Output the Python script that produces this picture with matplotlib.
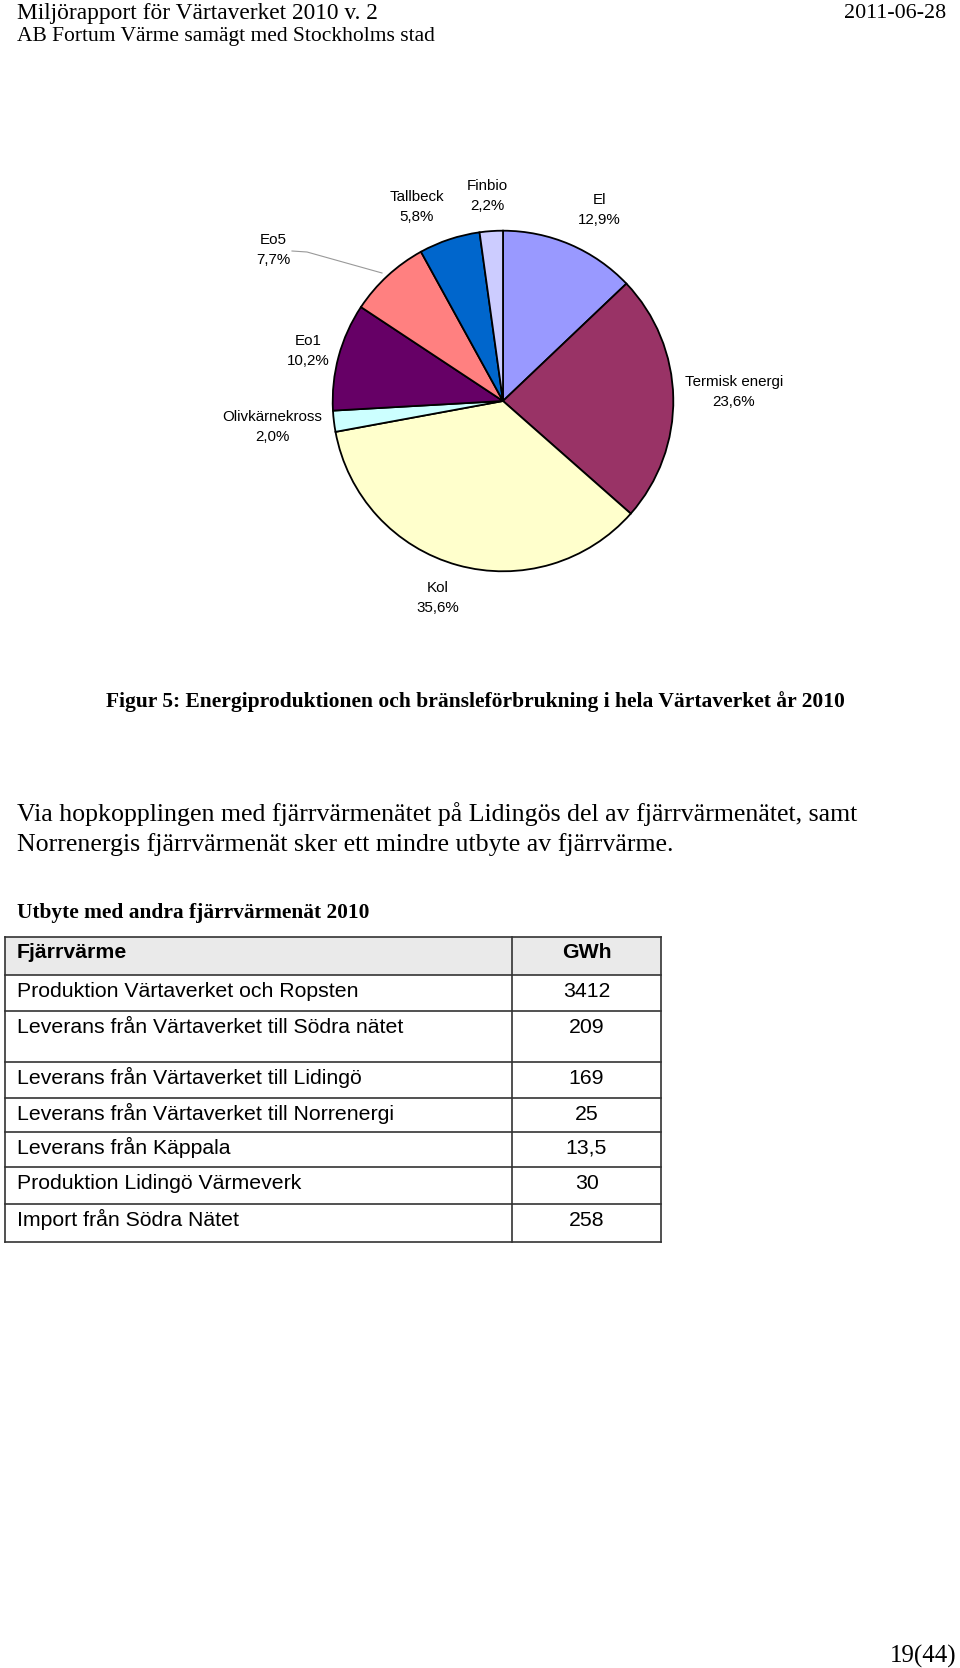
import matplotlib
matplotlib.use("Agg")
import matplotlib.pyplot as plt
from matplotlib.patches import Rectangle

# pie data
fuels = ["El", "Termisk energi", "Kol", "Olivkärnekross", "Eo1", "Eo5", "Tallbeck", "Finbio"]
shares = [12.9, 23.6, 35.6, 2.0, 10.2, 7.7, 5.8, 2.2]
fuel_colors = ["#9999FF", "#993366", "#FFFFCC", "#CCFFFF", "#660066", "#FF8080", "#0066CC", "#CCCCFF"]

# table data
table_head = ["Fjärrvärme", "GWh"]
table_rows = ["Produktion Värtaverket och Ropsten",
              "Leverans från Värtaverket till Södra nätet",
              "Leverans från Värtaverket till Lidingö",
              "Leverans från Värtaverket till Norrenergi",
              "Leverans från Käppala",
              "Produktion Lidingö Värmeverk",
              "Import från Södra Nätet"]
table_vals = ["3412", "209", "169", "25", "13,5", "30", "258"]

SERIF = "Liberation Serif"
SANS = "Liberation Sans"

W, H = 960, 1668
fig = plt.figure(figsize=(W / 100, H / 100), dpi=100)
page = fig.add_axes([0, 0, 1, 1])
page.set_xlim(0, W)
page.set_ylim(H, 0)
page.axis("off")

# header
page.text(17, 13, "Miljörapport för Värtaverket 2010 v. 2", family=SERIF, fontsize=16.8, va="center")
page.text(17, 36, "AB Fortum Värme samägt med Stockholms stad", family=SERIF, fontsize=15.5, va="center")
page.text(946, 13, "2011-06-28", family=SERIF, fontsize=15.8, va="center", ha="right")

# pie
cx, cy, r = 503, 401, 172
pax = fig.add_axes([(cx - r) / W, 1 - (cy + r) / H, 2 * r / W, 2 * r / H])
pax.pie(shares, colors=fuel_colors, startangle=90, counterclock=False,
        wedgeprops=dict(edgecolor="black", linewidth=1.3))
pax.set_xlim(-1.01, 1.01)
pax.set_ylim(-1.01, 1.01)
pax.set_aspect("equal")
pax.axis("off")

label_pos = {"El": (599, 210), "Termisk energi": (734, 392), "Kol": (438, 598),
             "Olivkärnekross": (272, 427), "Eo1": (308, 351), "Eo5": (273, 250),
             "Tallbeck": (417, 207), "Finbio": (487, 196)}
for name, val in zip(fuels, shares):
    x, y = label_pos[name]
    page.text(x, y, name + "\n" + f"{val:.1f}".replace(".", ",") + "%", family=SANS,
              fontsize=10.9, ha="center", va="center", linespacing=1.5)
page.plot([292, 307, 382], [251, 252, 273], color="#999999", lw=0.8)

# caption
page.text(475, 702, "Figur 5: Energiproduktionen och bränsleförbrukning i hela Värtaverket år 2010",
          family=SERIF, fontsize=15.5, weight="bold", ha="center", va="center")

# paragraph
page.text(17, 814, "Via hopkopplingen med fjärrvärmenätet på Lidingös del av fjärrvärmenätet, samt",
          family=SERIF, fontsize=18.6, va="center")
page.text(17, 845, "Norrenergis fjärrvärmenät sker ett mindre utbyte av fjärrvärme.",
          family=SERIF, fontsize=18.6, va="center")

# table
page.text(17, 913, "Utbyte med andra fjärrvärmenät 2010", family=SERIF, fontsize=15.4,
          weight="bold", va="center")

x0, xdiv, x1 = 5, 512, 661
row_h = [38, 36, 51, 36, 34, 35, 37, 38]
y = 937
edges = [y]
for h in row_h:
    y += h
    edges.append(y)

page.add_patch(Rectangle((x0, edges[0]), x1 - x0, edges[1] - edges[0], facecolor="#EAEAEA",
                         edgecolor="none"))
for e in edges:
    page.plot([x0, x1], [e, e], color="#333333", lw=1.2)
for xv in (x0, xdiv, x1):
    page.plot([xv, xv], [edges[0], edges[-1]], color="#333333", lw=1.2)

page.text(17, edges[0] + 21, table_head[0], family=SANS, fontsize=15.3, weight="bold", va="baseline")
page.text((xdiv + x1) / 2, edges[0] + 21, table_head[1], family=SANS, fontsize=15.3, weight="bold",
          va="baseline", ha="center")
for i, (lab, v) in enumerate(zip(table_rows, table_vals)):
    ty = edges[i + 1] + 22
    page.text(17, ty, lab, family=SANS, fontsize=15.3, va="baseline")
    page.text((xdiv + x1) / 2, ty, v, family=SANS, fontsize=15.3, va="baseline", ha="center")

# page number
page.text(956, 1656, "19(44)", family=SERIF, fontsize=18, va="center", ha="right")

fig.savefig("out.png", dpi=100)
